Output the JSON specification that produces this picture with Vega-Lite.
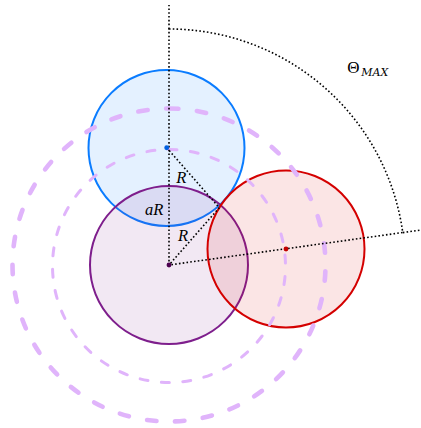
{
  "$schema": "https://vega.github.io/schema/vega-lite/v6.json",
  "width": 421,
  "height": 428,
  "padding": 0,
  "autosize": {"type": "none"},
  "background": "white",
  "config": {"view": {"stroke": null}},
  "datasets": {
    "circles": [
      {"name": "blue", "x": -2.5, "y": 117, "r": 78},
      {"name": "purple", "x": 0, "y": 0, "r": 79},
      {"name": "red", "x": 117, "y": 16, "r": 78.5}
    ],
    "rings": [
      {"ring": "outer", "x": 0, "y": 0, "r": 156.5},
      {"ring": "inner", "x": 0, "y": -1, "r": 116.5}
    ],
    "sector": [
      {"x": 0, "y": 0, "r": 236, "t0": 0, "t1": 1.4328}
    ],
    "segments": [
      {"x": 0, "y": 236, "x2": 0, "y2": 260},
      {"x": 233.8, "y": 32.4, "x2": 252, "y2": 35},
      {"x": -2.3, "y": 117.3, "x2": 50.3, "y2": 57.3},
      {"x": 50.3, "y": 57.3, "x2": 0, "y2": 0}
    ],
    "dots": [
      {"name": "blue", "x": -2.3, "y": 117.3},
      {"name": "purple", "x": 0, "y": 0},
      {"name": "red", "x": 117, "y": 16}
    ],
    "labels": [
      {"text": "R", "x": 12.3, "y": 81.7},
      {"text": "R", "x": 14, "y": 24},
      {"text": "aR", "x": -14.8, "y": 50}
    ]
  },
  "encoding": {
    "x": {"field": "x", "type": "quantitative", "scale": {"domain": [-169, 252], "nice": false, "zero": false}, "axis": null},
    "y": {"field": "y", "type": "quantitative", "scale": {"domain": [-163, 265], "nice": false, "zero": false}, "axis": null}
  },
  "layer": [
    {
      "data": {"name": "circles"},
      "mark": {"type": "arc", "theta": 0, "theta2": 6.2832, "strokeWidth": 2, "fillOpacity": 0.11},
      "encoding": {
        "radius": {"field": "r", "type": "quantitative", "scale": null, "stack": null},
        "fill": {"field": "name", "type": "nominal", "scale": {"domain": ["blue", "purple", "red"], "range": ["#0a7cff", "#8a2a96", "#d81414"]}, "legend": null},
        "stroke": {"field": "name", "type": "nominal", "scale": {"domain": ["blue", "purple", "red"], "range": ["#0a7cff", "#7e1e8c", "#d40000"]}, "legend": null},
        "order": {"field": "name"}
      }
    },
    {
      "data": {"name": "rings"},
      "transform": [{"filter": "datum.ring === 'outer'"}],
      "mark": {"type": "arc", "theta": 0, "theta2": 6.2832, "fill": null, "stroke": "#e0b4fb", "strokeWidth": 4.6, "strokeCap": "round", "strokeDash": [9.5, 18.5]},
      "encoding": {
        "radius": {"field": "r", "type": "quantitative", "scale": null, "stack": null}
      }
    },
    {
      "data": {"name": "rings"},
      "transform": [{"filter": "datum.ring === 'inner'"}],
      "mark": {"type": "arc", "theta": 0, "theta2": 6.2832, "fill": null, "stroke": "#e0b4fb", "strokeWidth": 3, "strokeCap": "round", "strokeDash": [8, 13.5]},
      "encoding": {
        "radius": {"field": "r", "type": "quantitative", "scale": null, "stack": null}
      }
    },
    {
      "data": {"name": "sector"},
      "mark": {"type": "arc", "fill": null, "stroke": "black", "strokeWidth": 1.6, "strokeDash": [1.6, 2.2]},
      "encoding": {
        "theta": {"field": "t0", "type": "quantitative", "scale": null, "stack": null},
        "theta2": {"field": "t1"},
        "radius": {"field": "r", "type": "quantitative", "scale": null, "stack": null}
      }
    },
    {
      "data": {"name": "segments"},
      "mark": {"type": "rule", "stroke": "black", "strokeWidth": 1.6, "strokeDash": [1.6, 2.2]},
      "encoding": {
        "x2": {"field": "x2"},
        "y2": {"field": "y2"}
      }
    },
    {
      "data": {"name": "dots"},
      "mark": {"type": "point", "filled": true, "opacity": 1, "size": 24, "shape": "circle"},
      "encoding": {
        "color": {"field": "name", "type": "nominal", "scale": {"domain": ["blue", "purple", "red"], "range": ["#0060e0", "#4d0050", "#c00000"]}, "legend": null}
      }
    },
    {
      "data": {"name": "labels"},
      "mark": {"type": "text", "font": "Liberation Serif", "fontStyle": "italic", "fontSize": 16.5, "align": "center", "baseline": "alphabetic", "color": "black"},
      "encoding": {
        "text": {"field": "text"}
      }
    },
    {
      "data": {"values": [{"text": "Θ", "x": 184.3, "y": 191.7}]},
      "mark": {"type": "text", "font": "Liberation Serif", "fontSize": 17, "align": "center", "baseline": "alphabetic", "color": "black"},
      "encoding": {"text": {"field": "text"}}
    },
    {
      "data": {"values": [{"text": "MAX", "x": 205.7, "y": 189}]},
      "mark": {"type": "text", "font": "DejaVu Serif", "fontStyle": "italic", "fontSize": 11, "align": "center", "baseline": "alphabetic", "color": "black"},
      "encoding": {"text": {"field": "text"}}
    }
  ]
}
